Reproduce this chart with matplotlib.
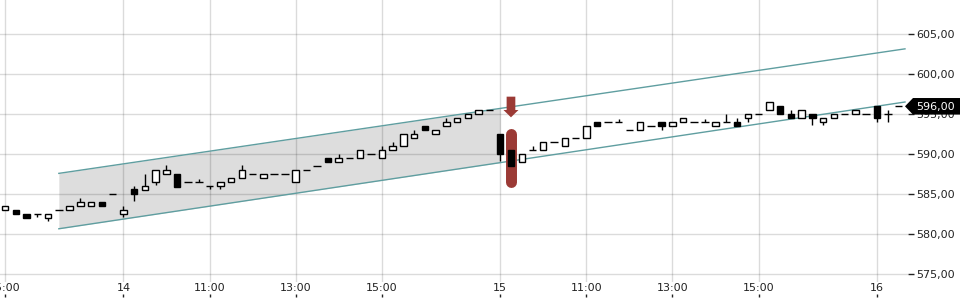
import matplotlib
matplotlib.use("Agg")
import matplotlib.pyplot as plt
from matplotlib.patches import Polygon
from matplotlib.transforms import IdentityTransform
import numpy as np

# ---------------- data ----------------
opens = [583.0, 583.0, 582.5, 582.5, 582.0, 583.0, 583.0, 583.5, 583.5, 584.0,
         585.0, 582.5, 585.6, 585.5, 586.5, 587.5, 587.5, 586.5, 586.5, 586.0,
         586.0, 586.5, 587.0, 587.5, 587.0, 587.5, 587.5, 586.5, 588.0, 588.5,
         589.5, 589.0, 589.5, 589.5, 590.0, 589.5, 590.5, 591.0, 592.0, 593.5,
         592.5, 593.5, 594.0, 594.5, 595.0, 595.5, 592.5, 590.5, 589.0, 590.5,
         590.5, 591.5, 591.0, 592.0, 592.0, 594.0, 594.0, 594.0, 593.0, 593.0,
         593.5, 594.0, 593.5, 594.0, 594.0, 594.0, 593.5, 594.0, 594.0, 594.5,
         595.0, 595.5, 596.0, 595.0, 594.5, 595.0, 594.0, 594.5, 595.0, 595.0,
         595.0, 596.0, 595.0, 596.0]
closes = [583.5, 582.5, 582.0, 582.5, 582.5, 583.0, 583.5, 584.0, 584.0, 583.5,
          585.0, 583.0, 585.0, 586.0, 588.0, 588.0, 585.9, 586.5, 586.5, 586.0,
          586.5, 587.0, 588.0, 587.5, 587.5, 587.5, 587.5, 588.0, 588.0, 588.5,
          589.0, 589.5, 589.5, 590.5, 590.0, 590.5, 591.0, 592.5, 592.5, 593.0,
          593.0, 594.0, 594.5, 595.0, 595.5, 595.5, 590.0, 588.5, 590.0, 590.5,
          591.5, 591.5, 592.0, 592.0, 593.5, 593.5, 594.0, 594.0, 593.0, 594.0,
          593.5, 593.5, 594.0, 594.5, 594.0, 594.0, 594.0, 594.0, 593.5, 595.0,
          595.0, 596.5, 595.0, 594.5, 595.5, 594.5, 594.5, 595.0, 595.0, 595.5,
          595.0, 594.5, 595.0, 596.0]
highs = [583.5, 583.0, 582.5, 582.5, 582.5, 583.0, 583.5, 584.5, 584.0, 584.0,
         585.0, 583.5, 586.0, 587.5, 588.0, 588.6, 587.5, 586.5, 586.9, 586.0,
         586.5, 587.0, 588.6, 587.5, 587.5, 587.5, 587.5, 588.0, 588.0, 588.5,
         589.5, 590.0, 589.5, 590.5, 590.0, 591.0, 591.5, 592.5, 593.0, 593.5,
         593.0, 594.5, 594.5, 595.0, 595.5, 595.5, 592.5, 590.5, 590.0, 591.0,
         591.5, 591.5, 592.0, 592.0, 593.5, 594.0, 594.0, 594.4, 593.0, 594.0,
         593.5, 594.0, 594.0, 594.5, 594.0, 594.4, 594.0, 595.0, 594.5, 595.0,
         595.0, 596.5, 596.0, 595.5, 595.5, 595.0, 594.5, 595.0, 595.0, 595.5,
         595.0, 596.0, 595.5, 596.0]
lows = [583.0, 582.5, 582.0, 582.1, 581.6, 583.0, 583.0, 583.5, 583.5, 583.5,
        585.0, 582.1, 584.1, 585.5, 586.1, 587.5, 585.9, 586.5, 586.5, 585.6,
        585.6, 586.5, 587.0, 587.5, 587.0, 587.5, 587.5, 586.5, 588.0, 588.5,
        589.0, 589.0, 589.5, 589.5, 590.0, 589.5, 590.5, 591.0, 592.0, 593.0,
        592.5, 593.5, 594.0, 594.5, 595.0, 595.5, 589.1, 588.5, 589.0, 590.5,
        590.5, 591.5, 591.0, 592.0, 592.0, 593.5, 594.0, 594.0, 593.0, 593.0,
        593.5, 593.0, 593.5, 594.0, 594.0, 594.0, 593.5, 594.0, 593.5, 594.0,
        595.0, 595.5, 595.0, 594.5, 594.5, 593.6, 593.6, 594.5, 595.0, 595.0,
        595.0, 594.0, 594.0, 596.0]

tick_index = [0, 11, 19, 27, 35, 46, 54, 62, 70, 81]
tick_labels = ["15:00", "14", "11:00", "13:00", "15:00", "15", "11:00", "13:00", "15:00", "16"]

y_ticks = [575, 580, 585, 590, 595, 600, 605]

# trend channel: (index, value) end points
channel_x = [5, 83.6]
channel_upper = [587.6, 603.2]
channel_lower = [580.66, 596.54]
channel_fill_end = 46

signal_index = 47
signal_range = [586.5, 592.5]
last_price = 596.0

# ---------------- figure ----------------
W, H = 960, 300
fig = plt.figure(figsize=(W / 100, H / 100), dpi=100)
ax = fig.add_axes([0, 18 / H, 908 / W, 282 / H])
ax.set_xlim(-0.4645, 83.88)
ax.set_ylim(573.99, 609.32)
for s in ax.spines.values():
    s.set_visible(False)

# grid
ax.set_xticks(tick_index)
ax.set_xticklabels(tick_labels)
ax.set_yticks(y_ticks)
ax.set_yticklabels([f"{v:.2f}".replace(".", ",") for v in y_ticks])
ax.grid(True, color="black", alpha=0.14, lw=1)
ax.yaxis.tick_right()
ax.tick_params(axis="y", direction="out", length=4.3, width=1, pad=1.5,
               labelsize=8, colors="#222222")
ax.tick_params(axis="x", length=0, pad=0.8, labelsize=8, colors="#222222")

# channel
xs = np.array(channel_x, dtype=float)
up = np.array(channel_upper)
lo = np.array(channel_lower)
slope_u = (up[1] - up[0]) / (xs[1] - xs[0])
slope_l = (lo[1] - lo[0]) / (xs[1] - xs[0])
fx = np.array([xs[0], channel_fill_end])
ax.fill_between(fx, lo[0] + slope_l * (fx - xs[0]), up[0] + slope_u * (fx - xs[0]),
                color="#dddddd", lw=0, zorder=1)
ax.plot(xs, up, color="#5f9ea0", lw=1, zorder=3)
ax.plot(xs, lo, color="#5f9ea0", lw=1, zorder=3)

# signal marker
marker_color = "#9b3a35"
ax.plot([signal_index, signal_index], signal_range, color=marker_color,
        lw=7.9, solid_capstyle="round", zorder=4)

# candles
idx = np.arange(len(opens))
o = np.array(opens); c = np.array(closes); h = np.array(highs); l = np.array(lows)
ax.vlines(idx, l, h, color="black", lw=1, zorder=5)
bw = 0.6
for i in idx:
    if abs(c[i] - o[i]) < 1e-9:
        ax.hlines(o[i], i - bw / 2 - 0.05, i + bw / 2 + 0.05, color="black", lw=1, zorder=6)
    else:
        fc = "white" if c[i] > o[i] else "black"
        ax.bar(i, c[i] - o[i], bottom=o[i], width=bw, facecolor=fc,
               edgecolor="black", lw=1, zorder=6)

# arrow above signal candle (display pixels)
fig.canvas.draw()
sx, _ = ax.transData.transform((signal_index, 0))
_, y_top_px = ax.transData.transform((0, 597.21))
_, y_neck_px = ax.transData.transform((0, 595.54))
_, y_tip_px = ax.transData.transform((0, 594.62))
arrow = Polygon([(sx - 4.35, y_top_px), (sx + 4.35, y_top_px), (sx + 4.35, y_neck_px),
                 (sx + 7.5, y_neck_px), (sx, y_tip_px), (sx - 7.5, y_neck_px),
                 (sx - 4.35, y_neck_px)], closed=True, transform=IdentityTransform(),
                facecolor=marker_color, edgecolor="none", zorder=7)
fig.add_artist(arrow)

# last price label
_, ly = ax.transData.transform((0, last_price))
x_tip = 905
lab = Polygon([(x_tip, ly), (x_tip + 8, ly + 8.3), (W + 5, ly + 8.3),
               (W + 5, ly - 8.3), (x_tip + 8, ly - 8.3)], closed=True,
              transform=IdentityTransform(), facecolor="black", edgecolor="none", zorder=20)
fig.add_artist(lab)
fig.text(916 / W, ly / H, f"{last_price:.2f}".replace(".", ","), color="white",
         fontsize=8, ha="left", va="center_baseline", zorder=21)

# bottom tick marks (separate strip below labels)
axt = fig.add_axes([0, 3 / H, 908 / W, 0.0001])
axt.set_xlim(ax.get_xlim())
axt.set_xticks(tick_index)
axt.set_xticklabels([])
axt.set_yticks([])
axt.tick_params(axis="x", direction="in", length=2.2, width=1, colors="#222222")
for s in axt.spines.values():
    s.set_visible(False)
axt.patch.set_alpha(0)

fig.savefig("out.png", dpi=100)
